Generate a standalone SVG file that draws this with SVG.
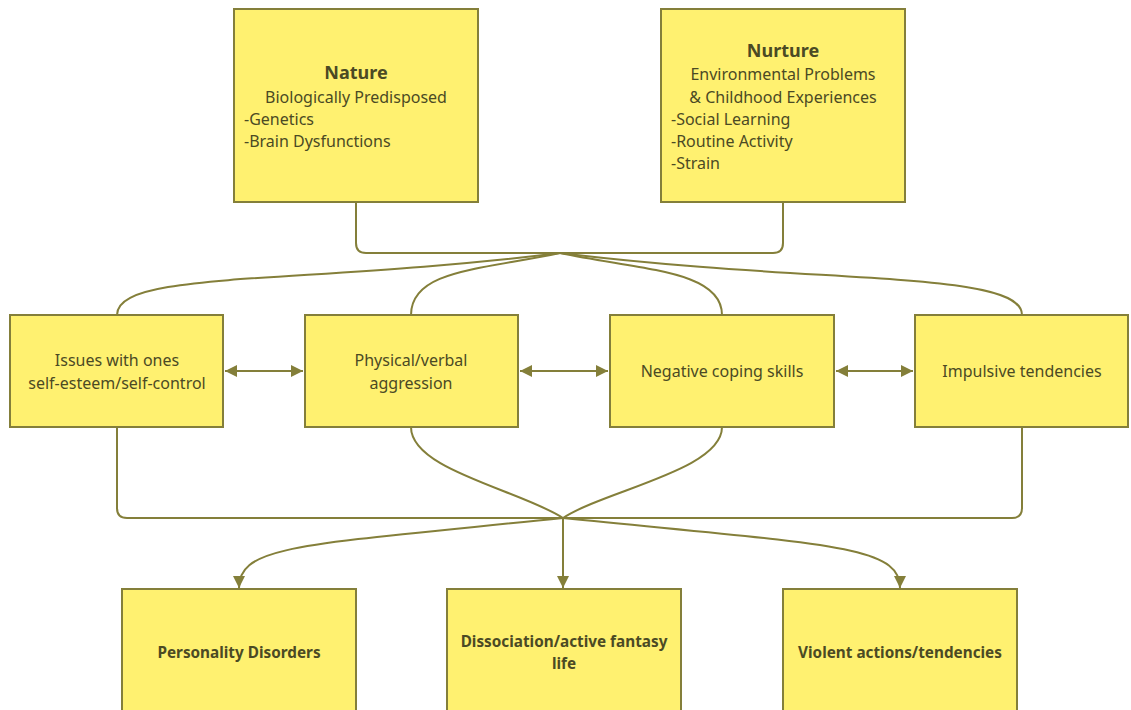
<svg xmlns="http://www.w3.org/2000/svg" width="1131" height="710" viewBox="0 0 1131 710">
<style>
.box{fill:#fff170;stroke:#847f3a;stroke-width:2}
.ln{fill:none;stroke:#847f3a;stroke-width:2}
text{font-family:"Noto Sans","Open Sans",sans-serif;font-size:16px;fill:#4b4a24}
.c{text-anchor:middle}
.b{font-weight:bold;font-size:15.3px}
.h{font-weight:bold;font-size:18px}
</style>
<defs>
<marker id="ae" markerUnits="userSpaceOnUse" markerWidth="14" markerHeight="14" refX="12" refY="6" orient="auto"><path d="M0,0 L12,6 L0,12 Z" fill="#847f3a"/></marker>
<marker id="as" markerUnits="userSpaceOnUse" markerWidth="14" markerHeight="14" refX="0" refY="6" orient="auto"><path d="M12,0 L0,6 L12,12 Z" fill="#847f3a"/></marker>
</defs>
<rect width="1131" height="710" fill="#ffffff"/>
<g id="connectors">
<path class="ln" d="M356,202 L356,243 Q356,253 366,253 L560,253"/>
<path class="ln" d="M783,202 L783,243 Q783,253 773,253 L560,253"/>
<path class="ln" d="M560,253 C300,285 117,270 117,315"/>
<path class="ln" d="M560,253 C480,270 411,270 411,315"/>
<path class="ln" d="M560,253 C640,270 722,270 722,315"/>
<path class="ln" d="M560,253 C820,285 1022,270 1022,315"/>
<path class="ln" d="M225,371 L303,371" marker-start="url(#as)" marker-end="url(#ae)"/>
<path class="ln" d="M520,371 L608,371" marker-start="url(#as)" marker-end="url(#ae)"/>
<path class="ln" d="M836,371 L913,371" marker-start="url(#as)" marker-end="url(#ae)"/>
<path class="ln" d="M117,427 L117,508 Q117,518 127,518 L563,518"/>
<path class="ln" d="M1022,427 L1022,508 Q1022,518 1012,518 L563,518"/>
<path class="ln" d="M411,427 C411,470 520,490 563,518"/>
<path class="ln" d="M722,427 C722,470 606,490 563,518"/>
<path class="ln" d="M563,518 L563,588" marker-end="url(#ae)"/>
<path class="ln" d="M563,518 C300,545 239,545 239,588" marker-end="url(#ae)"/>
<path class="ln" d="M563,518 C830,545 900,545 900,588" marker-end="url(#ae)"/>
</g>
<g id="nature">
<rect class="box" x="234" y="9" width="244" height="193"/>
<text class="c h" x="356" y="79">Nature</text>
<text class="c" x="356" y="103">Biologically Predisposed</text>
<text x="244" y="125">-Genetics</text>
<text x="244" y="147">-Brain Dysfunctions</text>
</g>
<g id="nurture">
<rect class="box" x="661" y="9" width="244" height="193"/>
<text class="c h" x="783" y="57">Nurture</text>
<text class="c" x="783" y="80">Environmental Problems</text>
<text class="c" x="783" y="103">&amp; Childhood Experiences</text>
<text x="671" y="125">-Social Learning</text>
<text x="671" y="147">-Routine Activity</text>
<text x="671" y="169">-Strain</text>
</g>
<g id="issues">
<rect class="box" x="10" y="315" width="213" height="112"/>
<text class="c" x="117" y="366">Issues with ones</text>
<text class="c" x="117" y="389">self-esteem/self-control</text>
</g>
<g id="aggression">
<rect class="box" x="305" y="315" width="213" height="112"/>
<text class="c" x="411" y="366">Physical/verbal</text>
<text class="c" x="411" y="389">aggression</text>
</g>
<g id="coping">
<rect class="box" x="610" y="315" width="224" height="112"/>
<text class="c" x="722" y="377">Negative coping skills</text>
</g>
<g id="impulsive">
<rect class="box" x="915" y="315" width="213" height="112"/>
<text class="c" x="1022" y="377">Impulsive tendencies</text>
</g>
<g id="personality">
<rect class="box" x="122" y="589" width="234" height="128"/>
<text class="c b" x="239" y="658">Personality Disorders</text>
</g>
<g id="dissociation">
<rect class="box" x="447" y="589" width="234" height="128"/>
<text class="c b" x="564" y="647">Dissociation/active fantasy</text>
<text class="c b" x="564" y="669">life</text>
</g>
<g id="violent">
<rect class="box" x="783" y="589" width="234" height="128"/>
<text class="c b" x="900" y="658">Violent actions/tendencies</text>
</g>
</svg>
